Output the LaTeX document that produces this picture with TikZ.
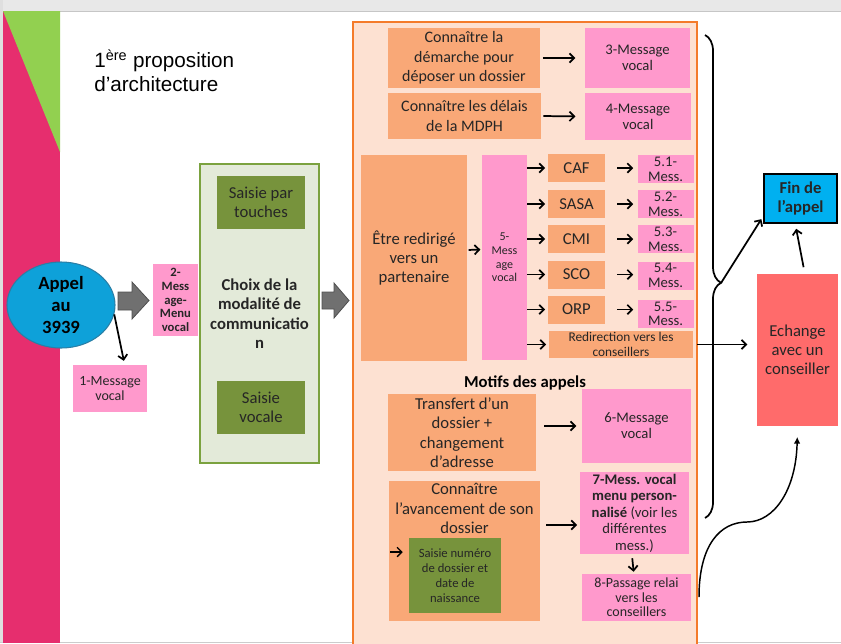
\documentclass[tikz,border=0pt]{standalone}
\usepackage{fontspec}
\setmainfont{Carlito}
\newfontfamily\titlefont{Liberation Sans}
\usetikzlibrary{arrows.meta,shapes.geometric,decorations.pathreplacing}

\definecolor{bandpink}{HTML}{E62E6E}
\definecolor{bandgreen}{HTML}{92D050}
\definecolor{appelblue}{HTML}{0EA1D9}
\definecolor{appelline}{HTML}{2A7FA6}
\definecolor{msgpink}{HTML}{FF99CC}
\definecolor{motifbox}{HTML}{F9A877}
\definecolor{motifback}{HTML}{FDE1D2}
\definecolor{motifline}{HTML}{F47B2B}
\definecolor{modeback}{HTML}{E3EAD9}
\definecolor{modeline}{HTML}{7BA23F}
\definecolor{saisiegreen}{HTML}{77933C}
\definecolor{finblue}{HTML}{00B0F0}
\definecolor{echangered}{HTML}{FF6B6B}
\definecolor{blockgray}{HTML}{707070}

\newcommand\fsz[2]{\fontsize{#1}{#2}\selectfont}

\tikzset{
  sz/.style 2 args={minimum width=#1*0.75pt, minimum height=#2*0.75pt},
  box/.style={inner sep=0pt, align=center, text=black!85},
  motif/.style={box, fill=motifbox},
  msg/.style={box, fill=msgpink},
  saisie/.style={box, fill=saisiegreen},
  arr/.style={-{Straight Barb[length=3.5pt,width=7pt]}, line width=1.3pt},
  blockarrow/.style={fill=blockgray, draw=blockgray!70!black, line width=0.6pt},
}

\begin{document}
\begin{tikzpicture}[x=0.75pt, y=-0.75pt]
\useasboundingbox (0,0) rectangle (841,643);
% slide frame
\fill[gray!18] (0,0) rectangle (841,11);
\draw[gray!45] (0,11) -- (841,11);
\fill[gray!25] (0,0) rectangle (3,643);
\draw[gray!40] (0,642) -- (841,642);
\fill[bandpink] (3,11) rectangle (60,643);
\fill[bandgreen] (3,11) -- (60,11) -- (60,152) -- cycle;

\node[anchor=north west, align=left, inner sep=0pt,
  font=\titlefont\fsz{15.5}{18}] (titre) at (94,50)
  {1\textsuperscript{ère} proposition\\d’architecture};

% appel
\node[ellipse, draw=appelline, fill=appelblue, line width=0.8pt, sz={108}{86},
  inner sep=0pt, align=center, font=\fsz{14}{16.5}\bfseries] (appel) at (61,305)
  {Appel\\au\\3939};
\node[msg, sz={74}{47}, font=\fsz{10.5}{11}] (msg1) at (110,388.5) {1-Message\\vocal};
\draw[arr, shorten >=3pt] (appel.-10) -- ([xshift=11pt]msg1.north);
\draw[blockarrow] (118,292) -- (132,292) -- (132,282) -- (149,300.5) -- (132,319)
  -- (132,310) -- (118,310) -- cycle;
\node[msg, sz={45}{72}, font=\fsz{9.5}{10.2}\bfseries] (msg2) at (175.5,300)
  {2-\\Mess\\age-\\Menu\\vocal};

% choix de la modalite
\node[draw=modeline, fill=modeback, line width=0.8pt, sz={119}{299}, box,
  font=\fsz{12.5}{14.6}\bfseries] (modalite) at (259.5,313.5)
  {Choix de la\\modalité de\\communicatio\\n};
\node[saisie, sz={88}{53}, font=\fsz{12.5}{14}] (touches) at (261,202.5) {Saisie par\\touches};
\node[saisie, sz={88}{53}, font=\fsz{12.5}{14}] (vocale) at (261,407.5) {Saisie\\vocale};
\draw[blockarrow] (322,292) -- (334,292) -- (334,283) -- (349,300.5) -- (334,318)
  -- (334,309) -- (322,309) -- cycle;

% motifs des appels
\draw[fill=motifback, draw=motifline, line width=1pt] (353,22) rectangle (697,660);
\node[motif, sz={152}{60}, font=\fsz{12}{14.6}] (demarche) at (464,58)
  {Connaître la\\démarche pour\\déposer un dossier};
\node[msg, sz={105}{60}, font=\fsz{11}{12}] (msg3) at (637.5,58) {3-Message\\vocal};
\draw[arr, shorten <=2pt, shorten >=7pt] (demarche.east) -- (msg3.west);
\node[motif, sz={153}{46}, font=\fsz{12}{14.6}] (delais) at (464.5,116)
  {Connaître les délais\\de la MDPH};
\node[msg, sz={106}{47}, font=\fsz{11}{12}] (msg4) at (638,116.5) {4-Message\\vocal};
\draw[arr, shorten <=1.5pt, shorten >=7pt] (delais.east) -- (msg4.west);

\node[motif, sz={106}{206}, font=\fsz{12.5}{14.6}] (redirige) at (414,258)
  {Être redirigé\\vers un\\partenaire};
\node[msg, sz={45}{205}, font=\fsz{9}{10.2}] (msg5) at (504.5,257.5)
  {5-\\Mess\\age\\vocal};
\draw[arr, shorten <=1pt, shorten >=1pt] ([yshift=6pt]redirige.east) -- ([yshift=6pt]msg5.west);
\foreach \i/\t/\y/\yy in {1/CAF/168/169, 2/SASA/204/204, 3/CMI/239/239,
    4/SCO/274.5/275.5, 5/ORP/309.5/314} {
  \node[motif, sz={57}{28}, font=\fsz{12.5}{14}] (part\i) at (576.5,\y) {\t};
  \node[msg, sz={56}{28}, font=\fsz{11}{11}] (mess\i) at (665.5,\yy) {5.\i-\\Mess.};
  \draw[arr, shorten >=2pt] (msg5.east |- part\i.west) -- (part\i.west);
  \draw[arr, shorten <=9pt, shorten >=3pt] (part\i.east) -- (part\i.east -| mess\i.west);
}
\node[motif, sz={144}{27}, font=\fsz{10}{11.5}] (redir) at (621,344.5)
  {Redirection vers les\\conseillers};
\draw[arr, shorten >=2pt] (msg5.east |- redir.west) -- (redir.west);

\node[font=\fsz{12.5}{14}\bfseries, inner sep=0pt] (titremotifs) at (525,383) {Motifs des appels};
\node[motif, sz={148}{77}, font=\fsz{12.5}{14.6}] (transfert) at (462,432.5)
  {Transfert d’un\\dossier +\\changement\\d’adresse};
\node[msg, sz={109}{74}, font=\fsz{11}{12}] (msg6) at (636.5,426) {6-Message\\vocal};
\draw[arr, shorten <=6pt, shorten >=4pt] (transfert.east |- msg6.west) -- (msg6.west);

\node[motif, sz={151}{140}] (avancement) at (464.5,551) {};
\node[box, anchor=north, font=\fsz{12.5}{14.6}] (avancementtxt) at ([yshift=-2pt]avancement.north)
  {Connaître\\l’avancement de son\\dossier};
\node[saisie, sz={92}{75}, font=\fsz{9.5}{11.2}] (numero) at (455,575.5)
  {Saisie numéro\\de dossier et\\date de\\naissance};
\coordinate (entree) at (390,552);
\draw[arr, line width=1pt, shorten >=4.5pt] (entree) -- (entree -| numero.west);
\node[msg, sz={109}{82}, font=\fsz{11}{12.4}] (msg7) at (634.5,513)
  {\textbf{7-Mess. vocal}\\\textbf{menu person-}\\\textbf{nalisé} (voir les\\différentes\\mess.)};
\coordinate (in7) at ([yshift=-9pt]msg7.west);
\draw[arr, shorten <=4.5pt, shorten >=2pt] (avancement.east |- in7) -- (in7);
\node[msg, sz={109}{47}, font=\fsz{10.5}{10.8}] (msg8) at (636.5,597.5)
  {8-Passage relai\\vers les\\conseillers};
\draw[arr, shorten <=3pt, shorten >=1.5pt] ([xshift=-2pt]msg7.south) -- ([xshift=-2pt]msg8.north);

% fin de l'appel
\node[draw=black, fill=finblue, line width=0.8pt, sz={73}{49}, box,
  font=\fsz{12.5}{14.5}\bfseries] (fin) at (800.5,198.5) {Fin de\\l’appel};
\node[box, fill=echangered, sz={81}{152}, font=\fsz{12.5}{14.3}] (echange) at (797.5,350)
  {Echange\\avec un\\conseiller};
\draw[line width=1.3pt, decorate, decoration={brace, amplitude=12pt, aspect=0.513}]
  (705,35) -- (705,518);
\coordinate (bracetip) at (721,283);
\draw[arr, shorten >=3pt] (bracetip) -- (fin.205);
\draw[arr, shorten <=5pt, shorten >=4pt] ([xshift=5.5pt]echange.north) -- ([xshift=-4pt]fin.south);
\draw[arr, shorten <=3pt, shorten >=7pt] (redir.east) -- (redir.east -| echange.west);
\coordinate (courbe) at (699,597);
\draw[line width=1.1pt, -{Latex[length=5pt,width=5pt]}, shorten >=8pt] (courbe)
  .. controls (699,545) and (720,522) .. (747,522)
  .. controls (774,522) and (796,490) .. (echange.south);
\end{tikzpicture}
\end{document}
